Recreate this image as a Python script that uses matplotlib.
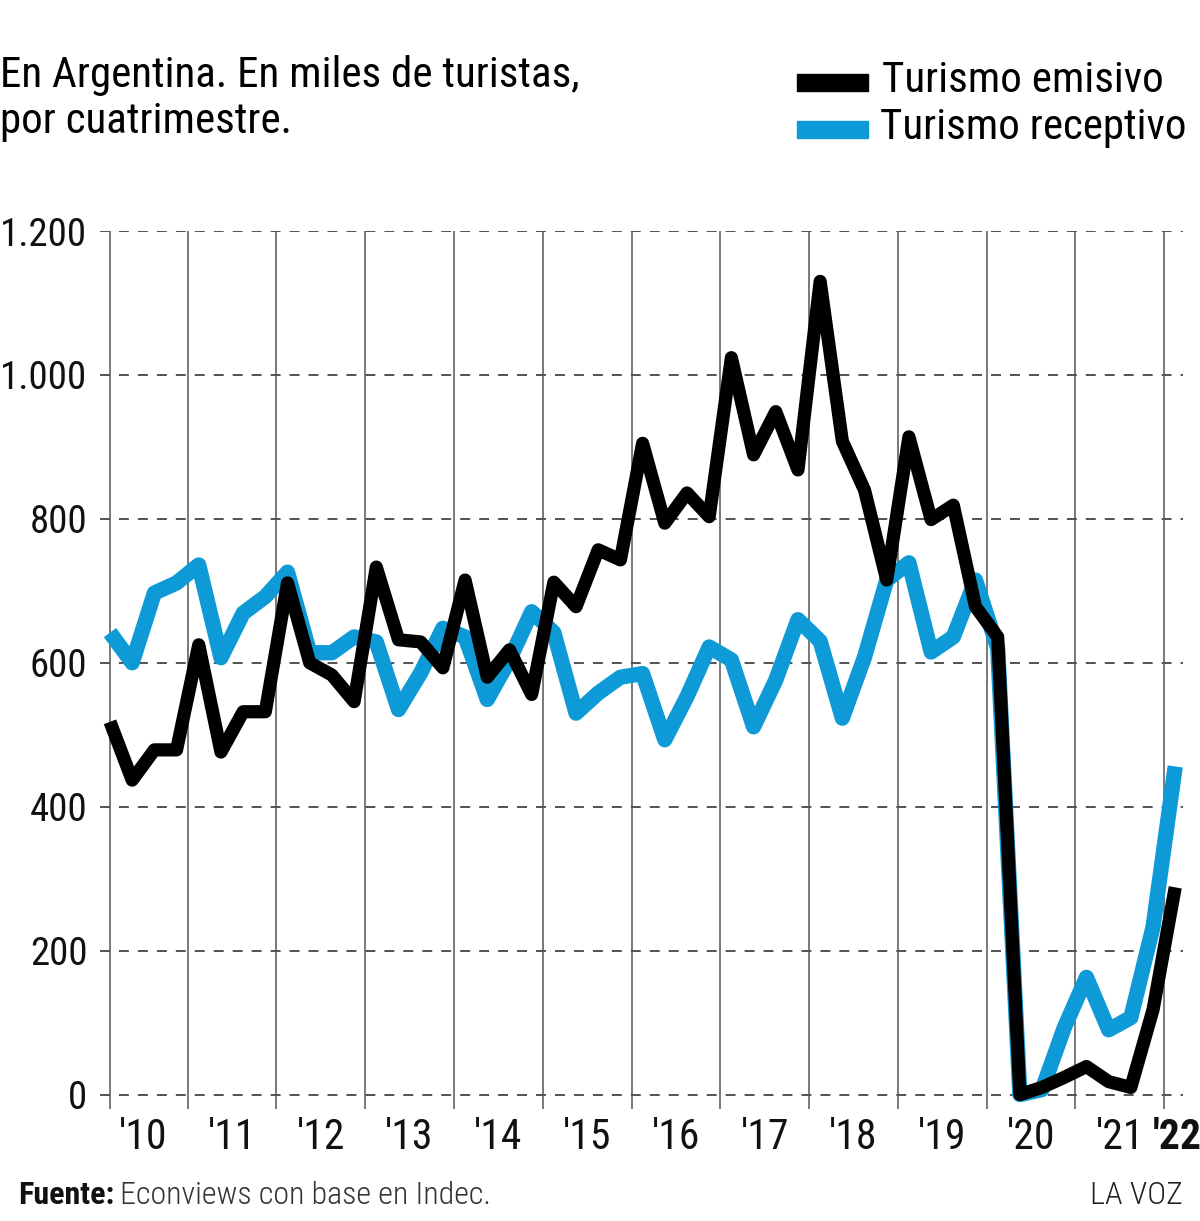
import matplotlib
matplotlib.use("Agg")
import matplotlib.pyplot as plt
from matplotlib import font_manager as fm
from matplotlib.patches import Rectangle

# ---- data (miles de turistas, por trimestre 2010Q1 .. 2022Q1) ----
emisivo = [518, 437, 479, 479, 625, 476, 532, 532,
           711, 600, 583, 546, 733, 632, 629, 593,
           715, 580, 618, 556, 712, 678, 757, 743,
           905, 794, 836, 803, 1024, 889, 949, 868,
           1130, 908, 840, 715, 914, 799, 819, 678,
           636, 0, 10, 24, 39, 18, 10, 118,
           288]
receptivo = [642, 600, 697, 711, 736, 607, 669, 692,
             726, 614, 614, 636, 629, 535, 586, 648,
             636, 549, 604, 671, 642, 530, 558, 580,
             585, 493, 553, 622, 604, 511, 576, 660,
             630, 523, 608, 715, 739, 615, 636, 715,
             620, 0, 7, 93, 163, 90, 107, 233,
             456]
year_labels = ["'10", "'11", "'12", "'13", "'14", "'15", "'16",
               "'17", "'18", "'19", "'20", "'21", "'22"]
y_ticks = [0, 200, 400, 600, 800, 1000, 1200]
y_tick_labels = ["0", "200", "400", "600", "800", "1.000", "1.200"]

# ---- font ----
def pick_font():
    for name in ["Roboto Condensed", "Liberation Sans Narrow", "DejaVu Sans Condensed"]:
        try:
            fm.findfont(fm.FontProperties(family=name), fallback_to_default=False)
            return name
        except Exception:
            pass
    return "Liberation Sans"
FONT = pick_font()
plt.rcParams["font.family"] = [FONT, "DejaVu Sans"]

BLUE = "#0e9ad7"
W, H = 1200, 1221
fig = plt.figure(figsize=(W / 100, H / 100), dpi=100)
ax = fig.add_axes([100 / W, 1 - 1109 / H, 1083 / W, (1109 - 231) / H])

x = list(range(len(emisivo)))
ax.set_xlim(-0.45, 48.35)
ax.set_ylim(-20, 1200)

# grid
for yv in y_ticks:
    ax.axhline(yv, color="#444444", lw=1.3, dashes=(5.5, 5), zorder=1)
ax.axvline(0, color="#555555", lw=1.1, zorder=1)
for k in range(1, 13):
    ax.axvline(4 * k - 0.5, color="#555555", lw=1.1, zorder=1)

ax.plot(x, receptivo, color=BLUE, lw=11, solid_joinstyle="round",
        solid_capstyle="butt", zorder=3)
ax.plot(x, emisivo, color="black", lw=9.5, solid_joinstyle="round",
        solid_capstyle="butt", zorder=4)

for s in ax.spines.values():
    s.set_visible(False)
ax.set_xticks([])
ax.set_yticks(y_ticks)
ax.set_yticklabels(y_tick_labels)
ax.tick_params(axis="y", length=0, pad=9, labelsize=28, labelcolor="#111111")

# x labels
for k, lab in enumerate(year_labels):
    bold = lab == "'22"
    ax.text(4 * k + 1.5 if not bold else 48.1, -60, lab, ha="center", va="center",
            fontsize=30, color="#111111", fontweight="bold" if bold else "normal",
            clip_on=False)

# title
fig.text(0 / W, 1 - 75 / H, "En Argentina. En miles de turistas,", fontsize=31,
         va="center", ha="left", color="black")
fig.text(0 / W, 1 - 122 / H, "por cuatrimestre.", fontsize=31,
         va="center", ha="left", color="black")

# legend
fig.patches.append(Rectangle((797 / W, 1 - 91 / H), 71 / W, 17 / H,
                             transform=fig.transFigure, color="black"))
fig.patches.append(Rectangle((797 / W, 1 - 138 / H), 71 / W, 17 / H,
                             transform=fig.transFigure, color=BLUE))
fig.text(882 / W, 1 - 80 / H, "Turismo emisivo", fontsize=31,
         va="center", ha="left", color="black")
fig.text(880 / W, 1 - 128 / H, "Turismo receptivo", fontsize=31,
         va="center", ha="left", color="black")

# footer
t = fig.text(18 / W, 1 - 1195 / H, "Fuente:", fontsize=23, fontweight="bold",
             va="center", ha="left", color="#111111")
fig.canvas.draw()
bb = t.get_window_extent()
fig.text((bb.x1 + 6) / W, 1 - 1195 / H, "Econviews con base en Indec.", fontsize=23,
         fontweight="light", va="center", ha="left", color="#333333")
fig.text(1183 / W, 1 - 1195 / H, "LA VOZ", fontsize=23, fontweight="light",
         va="center", ha="right", color="#222222")

fig.savefig("out.png", dpi=100, facecolor="white")
